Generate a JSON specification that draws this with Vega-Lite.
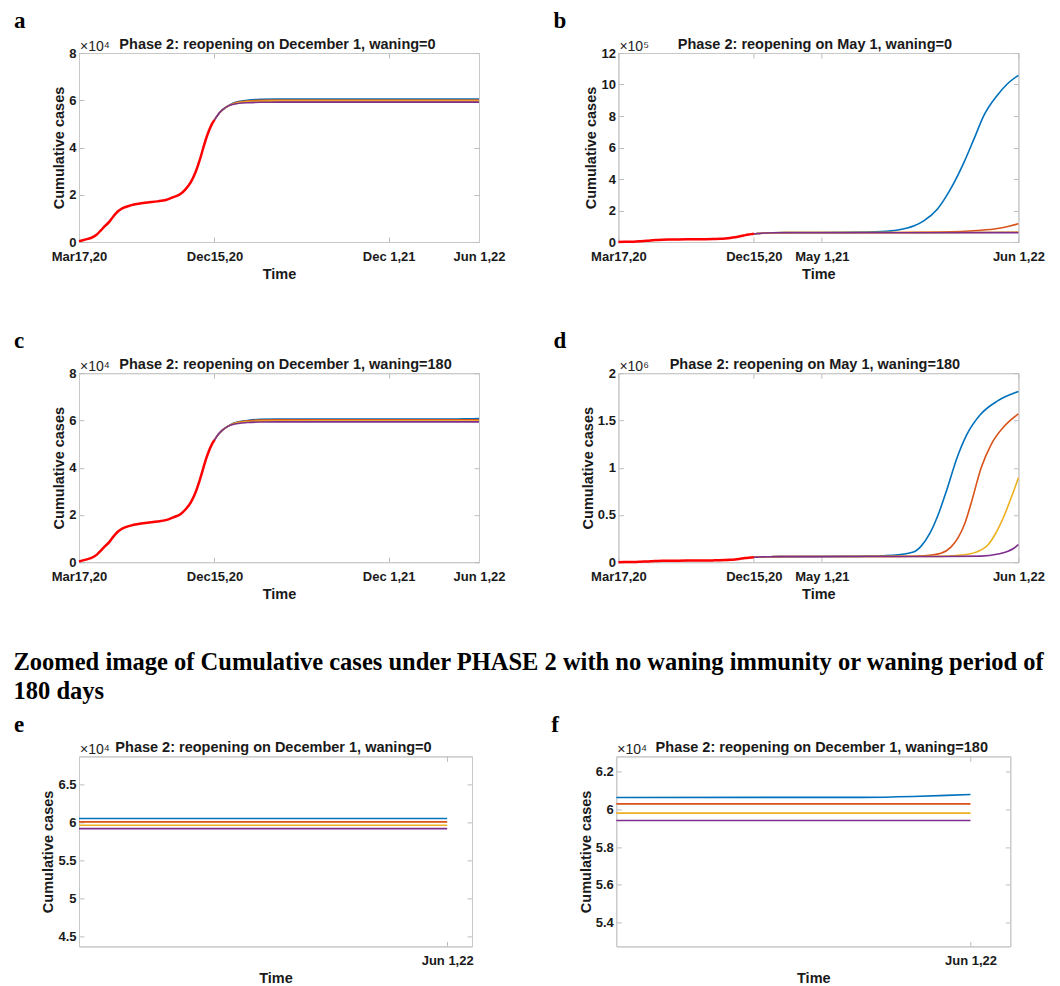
{
"$schema":"https://vega.github.io/schema/vega-lite/v6.json",
"background":"white",
"padding":{"left":13,"top":9,"right":2,"bottom":0},
"spacing":48.2,
"config":{
 "font":"Liberation Sans",
 "view":{"stroke":"#c8c8c8"},
 "axis":{"grid":false,"domainColor":"#c8c8c8","tickColor":"#bdbdbd","tickSize":-5,"labelFont":"Liberation Sans","labelFontSize":13,"labelFontWeight":"bold","labelColor":"#1a1a1a","titleFont":"Liberation Sans","titleFontSize":14.5,"titleFontWeight":"bold","titleColor":"#1a1a1a","labelOverlap":false},
 "axisBottom":{"labelPadding":13,"titlePadding":4,"labelFlush":false},
 "axisLeft":{"labelPadding":8,"titlePadding":2},
 "axisTop":{"labels":false,"titlePadding":1},
 "axisRight":{"labels":false},
 "title":{"font":"Liberation Serif","fontSize":23,"fontWeight":"bold","color":"#000","anchor":"start","frame":"group","dx":-65,"baseline":"alphabetic","offset":3.3}
},
"datasets":{"cases":[
{"scen":"P1","curve":"0","date":"2020-03-17","cases":300},
{"scen":"P1","curve":"0","date":"2020-03-29","cases":1000},
{"scen":"P1","curve":"0","date":"2020-04-10","cases":1700},
{"scen":"P1","curve":"0","date":"2020-04-22","cases":3200},
{"scen":"P1","curve":"0","date":"2020-04-30","cases":4900},
{"scen":"P1","curve":"0","date":"2020-05-08","cases":6700},
{"scen":"P1","curve":"0","date":"2020-05-17","cases":8500},
{"scen":"P1","curve":"0","date":"2020-05-24","cases":10500},
{"scen":"P1","curve":"0","date":"2020-05-30","cases":12000},
{"scen":"P1","curve":"0","date":"2020-06-05","cases":13200},
{"scen":"P1","curve":"0","date":"2020-06-13","cases":14300},
{"scen":"P1","curve":"0","date":"2020-06-29","cases":15500},
{"scen":"P1","curve":"0","date":"2020-07-15","cases":16200},
{"scen":"P1","curve":"0","date":"2020-08-02","cases":16700},
{"scen":"P1","curve":"0","date":"2020-08-22","cases":17200},
{"scen":"P1","curve":"0","date":"2020-09-08","cases":17800},
{"scen":"P1","curve":"0","date":"2020-09-23","cases":19000},
{"scen":"P1","curve":"0","date":"2020-10-08","cases":20400},
{"scen":"P1","curve":"0","date":"2020-10-18","cases":22400},
{"scen":"P1","curve":"0","date":"2020-10-28","cases":25200},
{"scen":"P1","curve":"0","date":"2020-11-07","cases":29600},
{"scen":"P1","curve":"0","date":"2020-11-15","cases":34500},
{"scen":"P1","curve":"0","date":"2020-11-22","cases":39500},
{"scen":"P1","curve":"0","date":"2020-11-28","cases":43700},
{"scen":"P1","curve":"0","date":"2020-12-04","cases":47200},
{"scen":"P1","curve":"0","date":"2020-12-10","cases":50000},
{"scen":"P1","curve":"0","date":"2020-12-15","cases":51700},
{"scen":"common","curve":"1","date":"2020-12-15","cases":51700},
{"scen":"common","curve":"1","date":"2020-12-22","cases":53900},
{"scen":"common","curve":"1","date":"2020-12-31","cases":55900},
{"scen":"common","curve":"1","date":"2021-01-10","cases":57400},
{"scen":"common","curve":"2","date":"2020-12-15","cases":51700},
{"scen":"common","curve":"2","date":"2020-12-22","cases":53900},
{"scen":"common","curve":"2","date":"2020-12-31","cases":55900},
{"scen":"common","curve":"2","date":"2021-01-10","cases":57400},
{"scen":"common","curve":"3","date":"2020-12-15","cases":51700},
{"scen":"common","curve":"3","date":"2020-12-22","cases":53900},
{"scen":"common","curve":"3","date":"2020-12-31","cases":55900},
{"scen":"common","curve":"3","date":"2021-01-10","cases":57400},
{"scen":"common","curve":"4","date":"2020-12-15","cases":51700},
{"scen":"common","curve":"4","date":"2020-12-22","cases":53900},
{"scen":"common","curve":"4","date":"2020-12-31","cases":55900},
{"scen":"common","curve":"4","date":"2021-01-10","cases":57400},
{"scen":"A","curve":"1","date":"2021-01-23","cases":58900},
{"scen":"A","curve":"1","date":"2021-02-19","cases":60000},
{"scen":"A","curve":"1","date":"2021-03-17","cases":60400},
{"scen":"A","curve":"1","date":"2021-04-20","cases":60520},
{"scen":"A","curve":"1","date":"2021-08-01","cases":60530},
{"scen":"A","curve":"1","date":"2021-12-01","cases":60530},
{"scen":"A","curve":"1","date":"2022-03-01","cases":60530},
{"scen":"A","curve":"1","date":"2022-06-01","cases":60530},
{"scen":"A","curve":"2","date":"2021-01-23","cases":58700},
{"scen":"A","curve":"2","date":"2021-02-19","cases":59700},
{"scen":"A","curve":"2","date":"2021-03-17","cases":59980},
{"scen":"A","curve":"2","date":"2021-04-20","cases":60080},
{"scen":"A","curve":"2","date":"2021-08-01","cases":60090},
{"scen":"A","curve":"2","date":"2021-12-01","cases":60090},
{"scen":"A","curve":"2","date":"2022-03-01","cases":60090},
{"scen":"A","curve":"2","date":"2022-06-01","cases":60090},
{"scen":"A","curve":"3","date":"2021-01-23","cases":58500},
{"scen":"A","curve":"3","date":"2021-02-19","cases":59300},
{"scen":"A","curve":"3","date":"2021-03-17","cases":59560},
{"scen":"A","curve":"3","date":"2021-04-20","cases":59640},
{"scen":"A","curve":"3","date":"2021-08-01","cases":59650},
{"scen":"A","curve":"3","date":"2021-12-01","cases":59650},
{"scen":"A","curve":"3","date":"2022-03-01","cases":59650},
{"scen":"A","curve":"3","date":"2022-06-01","cases":59650},
{"scen":"A","curve":"4","date":"2021-01-23","cases":58300},
{"scen":"A","curve":"4","date":"2021-02-19","cases":58950},
{"scen":"A","curve":"4","date":"2021-03-17","cases":59130},
{"scen":"A","curve":"4","date":"2021-04-20","cases":59190},
{"scen":"A","curve":"4","date":"2021-08-01","cases":59200},
{"scen":"A","curve":"4","date":"2021-12-01","cases":59200},
{"scen":"A","curve":"4","date":"2022-03-01","cases":59200},
{"scen":"A","curve":"4","date":"2022-06-01","cases":59200},
{"scen":"C","curve":"1","date":"2021-01-23","cases":58900},
{"scen":"C","curve":"1","date":"2021-02-19","cases":60000},
{"scen":"C","curve":"1","date":"2021-03-17","cases":60450},
{"scen":"C","curve":"1","date":"2021-04-20","cases":60600},
{"scen":"C","curve":"1","date":"2021-08-01","cases":60620},
{"scen":"C","curve":"1","date":"2021-12-01","cases":60620},
{"scen":"C","curve":"1","date":"2022-04-08","cases":60625},
{"scen":"C","curve":"1","date":"2022-05-03","cases":60670},
{"scen":"C","curve":"1","date":"2022-05-20","cases":60730},
{"scen":"C","curve":"1","date":"2022-06-01","cases":60780},
{"scen":"C","curve":"2","date":"2021-01-23","cases":58800},
{"scen":"C","curve":"2","date":"2021-02-19","cases":59850},
{"scen":"C","curve":"2","date":"2021-03-17","cases":60150},
{"scen":"C","curve":"2","date":"2021-04-20","cases":60260},
{"scen":"C","curve":"2","date":"2021-08-01","cases":60280},
{"scen":"C","curve":"2","date":"2021-12-01","cases":60280},
{"scen":"C","curve":"2","date":"2022-03-01","cases":60280},
{"scen":"C","curve":"2","date":"2022-06-01","cases":60280},
{"scen":"C","curve":"3","date":"2021-01-23","cases":58600},
{"scen":"C","curve":"3","date":"2021-02-19","cases":59450},
{"scen":"C","curve":"3","date":"2021-03-17","cases":59700},
{"scen":"C","curve":"3","date":"2021-04-20","cases":59780},
{"scen":"C","curve":"3","date":"2021-08-01","cases":59790},
{"scen":"C","curve":"3","date":"2021-12-01","cases":59790},
{"scen":"C","curve":"3","date":"2022-03-01","cases":59790},
{"scen":"C","curve":"3","date":"2022-06-01","cases":59790},
{"scen":"C","curve":"4","date":"2021-01-23","cases":58400},
{"scen":"C","curve":"4","date":"2021-02-19","cases":59100},
{"scen":"C","curve":"4","date":"2021-03-17","cases":59320},
{"scen":"C","curve":"4","date":"2021-04-20","cases":59390},
{"scen":"C","curve":"4","date":"2021-08-01","cases":59400},
{"scen":"C","curve":"4","date":"2021-12-01","cases":59400},
{"scen":"C","curve":"4","date":"2022-03-01","cases":59400},
{"scen":"C","curve":"4","date":"2022-06-01","cases":59400},
{"scen":"B","curve":"1","date":"2021-01-23","cases":58900},
{"scen":"B","curve":"1","date":"2021-02-19","cases":60000},
{"scen":"B","curve":"1","date":"2021-03-17","cases":60400},
{"scen":"B","curve":"1","date":"2021-04-20","cases":60500},
{"scen":"B","curve":"1","date":"2021-06-15","cases":61200},
{"scen":"B","curve":"1","date":"2021-07-20","cases":62800},
{"scen":"B","curve":"1","date":"2021-08-28","cases":66000},
{"scen":"B","curve":"1","date":"2021-10-01","cases":76000},
{"scen":"B","curve":"1","date":"2021-11-03","cases":103000},
{"scen":"B","curve":"1","date":"2021-11-23","cases":136000},
{"scen":"B","curve":"1","date":"2021-12-20","cases":210000},
{"scen":"B","curve":"1","date":"2022-01-16","cases":340000},
{"scen":"B","curve":"1","date":"2022-02-12","cases":510000},
{"scen":"B","curve":"1","date":"2022-03-04","cases":658000},
{"scen":"B","curve":"1","date":"2022-03-24","cases":807000},
{"scen":"B","curve":"1","date":"2022-04-20","cases":934000},
{"scen":"B","curve":"1","date":"2022-05-10","cases":1005000},
{"scen":"B","curve":"1","date":"2022-06-01","cases":1058000},
{"scen":"B","curve":"2","date":"2021-01-23","cases":58700},
{"scen":"B","curve":"2","date":"2021-02-19","cases":59700},
{"scen":"B","curve":"2","date":"2021-03-17","cases":59980},
{"scen":"B","curve":"2","date":"2021-04-20","cases":60080},
{"scen":"B","curve":"2","date":"2021-10-01","cases":60600},
{"scen":"B","curve":"2","date":"2021-12-27","cases":63000},
{"scen":"B","curve":"2","date":"2022-03-10","cases":73000},
{"scen":"B","curve":"2","date":"2022-04-20","cases":86000},
{"scen":"B","curve":"2","date":"2022-05-15","cases":102000},
{"scen":"B","curve":"2","date":"2022-06-01","cases":116000},
{"scen":"B","curve":"3","date":"2021-01-23","cases":58500},
{"scen":"B","curve":"3","date":"2021-02-19","cases":59300},
{"scen":"B","curve":"3","date":"2021-03-17","cases":59560},
{"scen":"B","curve":"3","date":"2021-04-20","cases":59640},
{"scen":"B","curve":"3","date":"2021-12-01","cases":59800},
{"scen":"B","curve":"3","date":"2022-03-01","cases":60500},
{"scen":"B","curve":"3","date":"2022-06-01","cases":62500},
{"scen":"B","curve":"4","date":"2021-01-23","cases":58300},
{"scen":"B","curve":"4","date":"2021-02-19","cases":58950},
{"scen":"B","curve":"4","date":"2021-03-17","cases":59130},
{"scen":"B","curve":"4","date":"2021-04-20","cases":59190},
{"scen":"B","curve":"4","date":"2021-12-01","cases":59200},
{"scen":"B","curve":"4","date":"2022-03-01","cases":59250},
{"scen":"B","curve":"4","date":"2022-06-01","cases":59400},
{"scen":"D","curve":"1","date":"2021-01-23","cases":58900},
{"scen":"D","curve":"1","date":"2021-02-19","cases":60000},
{"scen":"D","curve":"1","date":"2021-03-17","cases":60450},
{"scen":"D","curve":"1","date":"2021-04-20","cases":60600},
{"scen":"D","curve":"1","date":"2021-06-15","cases":61500},
{"scen":"D","curve":"1","date":"2021-08-01","cases":64000},
{"scen":"D","curve":"1","date":"2021-09-01","cases":68500},
{"scen":"D","curve":"1","date":"2021-10-01","cases":78000},
{"scen":"D","curve":"1","date":"2021-11-03","cases":110000},
{"scen":"D","curve":"1","date":"2021-11-17","cases":170000},
{"scen":"D","curve":"1","date":"2021-12-05","cases":310000},
{"scen":"D","curve":"1","date":"2021-12-24","cases":540000},
{"scen":"D","curve":"1","date":"2022-01-08","cases":770000},
{"scen":"D","curve":"1","date":"2022-01-28","cases":1100000},
{"scen":"D","curve":"1","date":"2022-02-17","cases":1350000},
{"scen":"D","curve":"1","date":"2022-03-16","cases":1560000},
{"scen":"D","curve":"1","date":"2022-04-20","cases":1707000},
{"scen":"D","curve":"1","date":"2022-06-01","cases":1806000},
{"scen":"D","curve":"2","date":"2021-01-23","cases":58700},
{"scen":"D","curve":"2","date":"2021-02-19","cases":59700},
{"scen":"D","curve":"2","date":"2021-03-17","cases":60000},
{"scen":"D","curve":"2","date":"2021-04-20","cases":60150},
{"scen":"D","curve":"2","date":"2021-10-01","cases":61500},
{"scen":"D","curve":"2","date":"2021-11-23","cases":69000},
{"scen":"D","curve":"2","date":"2021-12-27","cases":95000},
{"scen":"D","curve":"2","date":"2022-01-16","cases":160000},
{"scen":"D","curve":"2","date":"2022-01-30","cases":255000},
{"scen":"D","curve":"2","date":"2022-02-13","cases":410000},
{"scen":"D","curve":"2","date":"2022-02-25","cases":610000},
{"scen":"D","curve":"2","date":"2022-03-18","cases":1000000},
{"scen":"D","curve":"2","date":"2022-04-07","cases":1245000},
{"scen":"D","curve":"2","date":"2022-05-04","cases":1442000},
{"scen":"D","curve":"2","date":"2022-06-01","cases":1570000},
{"scen":"D","curve":"3","date":"2021-01-23","cases":58500},
{"scen":"D","curve":"3","date":"2021-02-19","cases":59300},
{"scen":"D","curve":"3","date":"2021-03-17","cases":59560},
{"scen":"D","curve":"3","date":"2021-04-20","cases":59700},
{"scen":"D","curve":"3","date":"2021-12-27","cases":62000},
{"scen":"D","curve":"3","date":"2022-02-12","cases":78000},
{"scen":"D","curve":"3","date":"2022-03-18","cases":130000},
{"scen":"D","curve":"3","date":"2022-04-01","cases":185000},
{"scen":"D","curve":"3","date":"2022-04-14","cases":285000},
{"scen":"D","curve":"3","date":"2022-04-24","cases":385000},
{"scen":"D","curve":"3","date":"2022-05-04","cases":500000},
{"scen":"D","curve":"3","date":"2022-05-14","cases":635000},
{"scen":"D","curve":"3","date":"2022-05-24","cases":775000},
{"scen":"D","curve":"3","date":"2022-06-01","cases":894000},
{"scen":"D","curve":"4","date":"2021-01-23","cases":58300},
{"scen":"D","curve":"4","date":"2021-02-19","cases":58950},
{"scen":"D","curve":"4","date":"2021-03-17","cases":59130},
{"scen":"D","curve":"4","date":"2021-04-20","cases":59300},
{"scen":"D","curve":"4","date":"2022-01-01","cases":60500},
{"scen":"D","curve":"4","date":"2022-03-18","cases":64000},
{"scen":"D","curve":"4","date":"2022-04-21","cases":86000},
{"scen":"D","curve":"4","date":"2022-05-11","cases":115000},
{"scen":"D","curve":"4","date":"2022-05-22","cases":145000},
{"scen":"D","curve":"4","date":"2022-06-01","cases":187000}
]},
"vconcat":[
{"hconcat":[
 {"width":400,"height":189,"title":{"text":"a"},"data":{"name":"cases"},
  "layer":[
   {"transform":[{"filter":"datum.scen==='A'||datum.scen==='common'"}],
    "mark":{"type":"line","strokeWidth":1.6,"interpolate":"monotone"},
    "encoding":{
     "x":{"field":"date","type":"temporal","scale":{"domain":[{"year":2020,"month":3,"date":17,"utc":true},{"year":2022,"month":6,"date":1,"utc":true}],"nice":false},
      "axis":{"title":"Time","values":[{"year":2020,"month":3,"date":17,"utc":true},{"year":2020,"month":12,"date":15,"utc":true},{"year":2021,"month":12,"date":1,"utc":true},{"year":2022,"month":6,"date":1,"utc":true}],"labelExpr":"utcFormat(datum.value,'%b%e,%y')"}},
     "y":{"field":"cases","type":"quantitative","scale":{"domain":[0,80000],"nice":false},
      "axis":{"title":"Cumulative cases","values":[0,20000,40000,60000,80000],"labelExpr":"'' + datum.value/10000"}},
     "color":{"field":"curve","type":"nominal","scale":{"domain":["1","2","3","4"],"range":["#0072BD","#D95319","#EDB120","#7E2F8E"]},"legend":null}
    }},
   {"transform":[{"filter":"datum.scen==='P1'"}],
    "mark":{"type":"line","strokeWidth":2.5,"color":"#ff0000","interpolate":"monotone"},
    "encoding":{"x":{"field":"date","type":"temporal","axis":null},"y":{"field":"cases","type":"quantitative","axis":null}}},
   {"data":{"values":[{"label":"×10⁴"}]},
    "mark":{"type":"text","align":"left","baseline":"alphabetic","dy":-2,"dx":1,"fontSize":14,"color":"#222"},
    "encoding":{
     "x":{"datum":{"year":2020,"month":3,"date":17,"utc":true},"type":"temporal","axis":{"orient":"top","title":"Phase 2: reopening on December 1, waning=0","titleX":198,"values":[{"year":2020,"month":3,"date":17,"utc":true},{"year":2020,"month":12,"date":15,"utc":true},{"year":2021,"month":12,"date":1,"utc":true},{"year":2022,"month":6,"date":1,"utc":true}]}},
     "y":{"datum":80000,"type":"quantitative","axis":{"orient":"right","title":null,"values":[0,20000,40000,60000,80000]}},
     "text":{"field":"label"}}}
  ],
  "resolve":{"axis":{"x":"independent","y":"independent"}}},
 {"width":400,"height":189,"title":{"text":"b"},"data":{"name":"cases"},
  "layer":[
   {"transform":[{"filter":"datum.scen==='B'||datum.scen==='common'"}],
    "mark":{"type":"line","strokeWidth":1.6,"interpolate":"monotone"},
    "encoding":{
     "x":{"field":"date","type":"temporal","scale":{"domain":[{"year":2020,"month":3,"date":17,"utc":true},{"year":2022,"month":6,"date":1,"utc":true}],"nice":false},
      "axis":{"title":"Time","values":[{"year":2020,"month":3,"date":17,"utc":true},{"year":2020,"month":12,"date":15,"utc":true},{"year":2021,"month":5,"date":1,"utc":true},{"year":2022,"month":6,"date":1,"utc":true}],"labelExpr":"utcFormat(datum.value,'%b%e,%y')"}},
     "y":{"field":"cases","type":"quantitative","scale":{"domain":[0,1200000],"nice":false},
      "axis":{"title":"Cumulative cases","values":[0,200000,400000,600000,800000,1000000,1200000],"labelExpr":"'' + datum.value/100000"}},
     "color":{"field":"curve","type":"nominal","scale":{"domain":["1","2","3","4"],"range":["#0072BD","#D95319","#EDB120","#7E2F8E"]},"legend":null}
    }},
   {"transform":[{"filter":"datum.scen==='P1'"}],
    "mark":{"type":"line","strokeWidth":2.5,"color":"#ff0000","interpolate":"monotone"},
    "encoding":{"x":{"field":"date","type":"temporal","axis":null},"y":{"field":"cases","type":"quantitative","axis":null}}},
   {"data":{"values":[{"label":"×10⁵"}]},
    "mark":{"type":"text","align":"left","baseline":"alphabetic","dy":-2,"dx":1,"fontSize":14,"color":"#222"},
    "encoding":{
     "x":{"datum":{"year":2020,"month":3,"date":17,"utc":true},"type":"temporal","axis":{"orient":"top","title":"Phase 2: reopening on May 1, waning=0","titleX":196,"values":[{"year":2020,"month":3,"date":17,"utc":true},{"year":2020,"month":12,"date":15,"utc":true},{"year":2021,"month":5,"date":1,"utc":true},{"year":2022,"month":6,"date":1,"utc":true}]}},
     "y":{"datum":1200000,"type":"quantitative","axis":{"orient":"right","title":null,"values":[0,200000,400000,600000,800000,1000000,1200000]}},
     "text":{"field":"label"}}}
  ],
  "resolve":{"axis":{"x":"independent","y":"independent"}}}
],"spacing":139.4,"bounds":"flush"},
{"hconcat":[
 {"width":400,"height":189,"title":{"text":"c"},"data":{"name":"cases"},
  "layer":[
   {"transform":[{"filter":"datum.scen==='C'||datum.scen==='common'"}],
    "mark":{"type":"line","strokeWidth":1.6,"interpolate":"monotone"},
    "encoding":{
     "x":{"field":"date","type":"temporal","scale":{"domain":[{"year":2020,"month":3,"date":17,"utc":true},{"year":2022,"month":6,"date":1,"utc":true}],"nice":false},
      "axis":{"title":"Time","values":[{"year":2020,"month":3,"date":17,"utc":true},{"year":2020,"month":12,"date":15,"utc":true},{"year":2021,"month":12,"date":1,"utc":true},{"year":2022,"month":6,"date":1,"utc":true}],"labelExpr":"utcFormat(datum.value,'%b%e,%y')"}},
     "y":{"field":"cases","type":"quantitative","scale":{"domain":[0,80000],"nice":false},
      "axis":{"title":"Cumulative cases","values":[0,20000,40000,60000,80000],"labelExpr":"'' + datum.value/10000"}},
     "color":{"field":"curve","type":"nominal","scale":{"domain":["1","2","3","4"],"range":["#0072BD","#D95319","#EDB120","#7E2F8E"]},"legend":null}
    }},
   {"transform":[{"filter":"datum.scen==='P1'"}],
    "mark":{"type":"line","strokeWidth":2.5,"color":"#ff0000","interpolate":"monotone"},
    "encoding":{"x":{"field":"date","type":"temporal","axis":null},"y":{"field":"cases","type":"quantitative","axis":null}}},
   {"data":{"values":[{"label":"×10⁴"}]},
    "mark":{"type":"text","align":"left","baseline":"alphabetic","dy":-2,"dx":1,"fontSize":14,"color":"#222"},
    "encoding":{
     "x":{"datum":{"year":2020,"month":3,"date":17,"utc":true},"type":"temporal","axis":{"orient":"top","title":"Phase 2: reopening on December 1, waning=180","titleX":206,"values":[{"year":2020,"month":3,"date":17,"utc":true},{"year":2020,"month":12,"date":15,"utc":true},{"year":2021,"month":12,"date":1,"utc":true},{"year":2022,"month":6,"date":1,"utc":true}]}},
     "y":{"datum":80000,"type":"quantitative","axis":{"orient":"right","title":null,"values":[0,20000,40000,60000,80000]}},
     "text":{"field":"label"}}}
  ],
  "resolve":{"axis":{"x":"independent","y":"independent"}}},
 {"width":400,"height":189,"title":{"text":"d"},"data":{"name":"cases"},
  "layer":[
   {"transform":[{"filter":"datum.scen==='D'||datum.scen==='common'"}],
    "mark":{"type":"line","strokeWidth":1.6,"interpolate":"monotone"},
    "encoding":{
     "x":{"field":"date","type":"temporal","scale":{"domain":[{"year":2020,"month":3,"date":17,"utc":true},{"year":2022,"month":6,"date":1,"utc":true}],"nice":false},
      "axis":{"title":"Time","values":[{"year":2020,"month":3,"date":17,"utc":true},{"year":2020,"month":12,"date":15,"utc":true},{"year":2021,"month":5,"date":1,"utc":true},{"year":2022,"month":6,"date":1,"utc":true}],"labelExpr":"utcFormat(datum.value,'%b%e,%y')"}},
     "y":{"field":"cases","type":"quantitative","scale":{"domain":[0,2000000],"nice":false},
      "axis":{"title":"Cumulative cases","values":[0,500000,1000000,1500000,2000000],"labelExpr":"'' + datum.value/1000000"}},
     "color":{"field":"curve","type":"nominal","scale":{"domain":["1","2","3","4"],"range":["#0072BD","#D95319","#EDB120","#7E2F8E"]},"legend":null}
    }},
   {"transform":[{"filter":"datum.scen==='P1'"}],
    "mark":{"type":"line","strokeWidth":2.5,"color":"#ff0000","interpolate":"monotone"},
    "encoding":{"x":{"field":"date","type":"temporal","axis":null},"y":{"field":"cases","type":"quantitative","axis":null}}},
   {"data":{"values":[{"label":"×10⁶"}]},
    "mark":{"type":"text","align":"left","baseline":"alphabetic","dy":-2,"dx":1,"fontSize":14,"color":"#222"},
    "encoding":{
     "x":{"datum":{"year":2020,"month":3,"date":17,"utc":true},"type":"temporal","axis":{"orient":"top","title":"Phase 2: reopening on May 1, waning=180","titleX":196,"values":[{"year":2020,"month":3,"date":17,"utc":true},{"year":2020,"month":12,"date":15,"utc":true},{"year":2021,"month":5,"date":1,"utc":true},{"year":2022,"month":6,"date":1,"utc":true}]}},
     "y":{"datum":2000000,"type":"quantitative","axis":{"orient":"right","title":null,"values":[0,500000,1000000,1500000,2000000]}},
     "text":{"field":"label"}}}
  ],
  "resolve":{"axis":{"x":"independent","y":"independent"}}}
],"spacing":139.4,"bounds":"flush"},
{"title":{"text":["Zoomed image of Cumulative cases under PHASE 2 with no waning immunity or waning period of","180 days"],"anchor":"start","frame":"bounds","dx":0,"font":"Liberation Serif","fontSize":24.5,"fontWeight":"bold","color":"#000","lineHeight":29,"limit":1046,"offset":-10,"baseline":"alphabetic"},
 "hconcat":[
 {"width":393,"height":190,"title":{"text":"e"},"data":{"name":"cases"},
  "layer":[
   {"transform":[{"filter":"datum.scen==='A'||datum.scen==='common'"}],
    "mark":{"type":"line","strokeWidth":1.6,"interpolate":"monotone","clip":true},
    "encoding":{
     "x":{"field":"date","type":"temporal","scale":{"domain":[{"year":2021,"month":12,"date":5,"utc":true},{"year":2022,"month":6,"date":13,"utc":true}],"nice":false},
      "axis":{"title":"Time","values":[{"year":2022,"month":6,"date":1,"utc":true}],"labelExpr":"utcFormat(datum.value,'%b%e,%y')"}},
     "y":{"field":"cases","type":"quantitative","scale":{"domain":[43700,68700],"nice":false,"zero":false},
      "axis":{"title":"Cumulative cases","values":[45000,50000,55000,60000,65000],"labelExpr":"'' + datum.value/10000"}},
     "color":{"field":"curve","type":"nominal","scale":{"domain":["1","2","3","4"],"range":["#0072BD","#D95319","#EDB120","#7E2F8E"]},"legend":null}
    }},
   {"data":{"values":[{"label":"×10⁴"}]},
    "mark":{"type":"text","align":"left","baseline":"alphabetic","dy":-2,"dx":1,"fontSize":14,"color":"#222"},
    "encoding":{
     "x":{"datum":{"year":2021,"month":12,"date":5,"utc":true},"type":"temporal","axis":{"orient":"top","title":"Phase 2: reopening on December 1, waning=0","titleX":194,"values":[{"year":2022,"month":6,"date":1,"utc":true}]}},
     "y":{"datum":68700,"type":"quantitative","axis":{"orient":"right","title":null,"values":[45000,50000,55000,60000,65000]}},
     "text":{"field":"label"}}}
  ],
  "resolve":{"axis":{"x":"independent","y":"independent"}}},
 {"width":394,"height":190,"title":{"text":"f"},"data":{"name":"cases"},
  "layer":[
   {"transform":[{"filter":"datum.scen==='C'||datum.scen==='common'"}],
    "mark":{"type":"line","strokeWidth":1.6,"interpolate":"monotone","clip":true},
    "encoding":{
     "x":{"field":"date","type":"temporal","scale":{"domain":[{"year":2021,"month":12,"date":5,"utc":true},{"year":2022,"month":6,"date":21,"utc":true}],"nice":false},
      "axis":{"title":"Time","values":[{"year":2022,"month":6,"date":1,"utc":true}],"labelExpr":"utcFormat(datum.value,'%b%e,%y')"}},
     "y":{"field":"cases","type":"quantitative","scale":{"domain":[52750,62790],"nice":false,"zero":false},
      "axis":{"title":"Cumulative cases","values":[54000,56000,58000,60000,62000],"labelExpr":"'' + datum.value/10000"}},
     "color":{"field":"curve","type":"nominal","scale":{"domain":["1","2","3","4"],"range":["#0072BD","#D95319","#EDB120","#7E2F8E"]},"legend":null}
    }},
   {"data":{"values":[{"label":"×10⁴"}]},
    "mark":{"type":"text","align":"left","baseline":"alphabetic","dy":-2,"dx":1,"fontSize":14,"color":"#222"},
    "encoding":{
     "x":{"datum":{"year":2021,"month":12,"date":5,"utc":true},"type":"temporal","axis":{"orient":"top","title":"Phase 2: reopening on December 1, waning=180","titleX":205,"values":[{"year":2022,"month":6,"date":1,"utc":true}]}},
     "y":{"datum":62790,"type":"quantitative","axis":{"orient":"right","title":null,"values":[54000,56000,58000,60000,62000]}},
     "text":{"field":"label"}}}
  ],
  "resolve":{"axis":{"x":"independent","y":"independent"}}}
],"spacing":144.3,"bounds":"flush"}
]
}
